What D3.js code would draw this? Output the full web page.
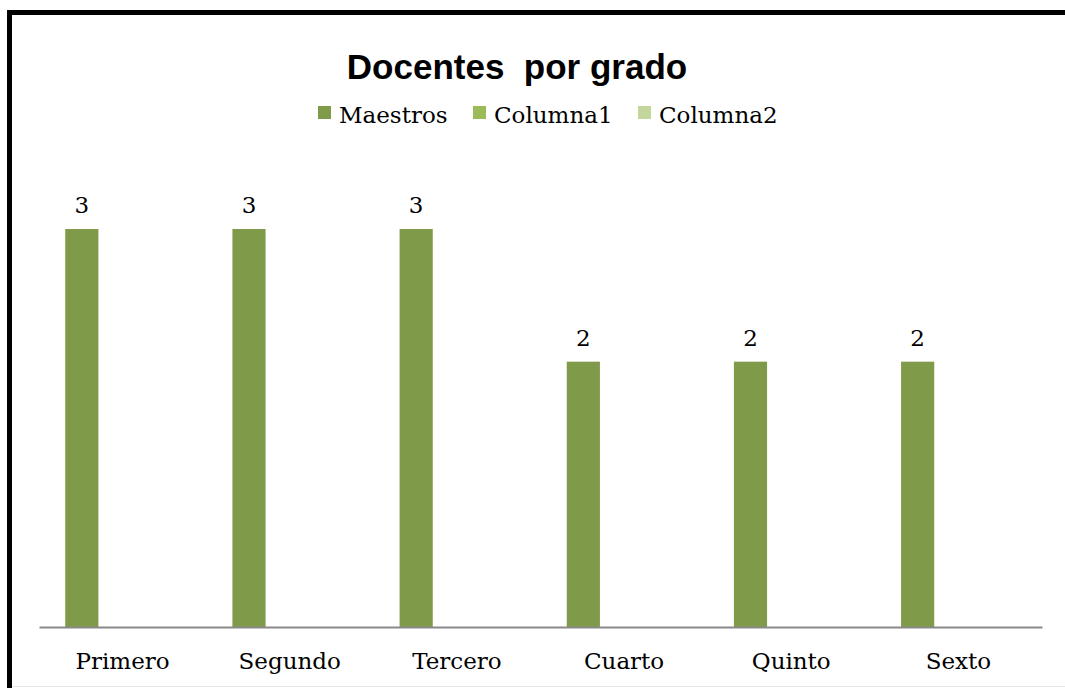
<!DOCTYPE html>
<html>
<head>
<meta charset="utf-8">
<script src="https://cdn.jsdelivr.net/npm/d3@7"></script>
<style>
  body { margin: 0; background: #fff; }
  svg { display: block; }
</style>
</head>
<body>
<svg class="chart" width="1065" height="688"></svg>
<script>
// data
const grados = ["Primero", "Segundo", "Tercero", "Cuarto", "Quinto", "Sexto"];
const series = ["Maestros", "Columna1", "Columna2"];
const maestros = [3, 3, 3, 2, 2, 2];
const serieColors = ["#7f9a48", "#9bbb59", "#c3d69b"];

const svg = d3.select(".chart");
const serif = "'DejaVu Serif', serif";

// frame (top + left black border)
svg.append("path")
    .attr("d", "M9.5,688V12.5H1065")
    .attr("fill", "none")
    .attr("stroke", "#000")
    .attr("stroke-width", 5);
svg.append("line")
    .attr("x1", 12).attr("x2", 1065)
    .attr("y1", 686.5).attr("y2", 686.5)
    .attr("stroke", "#e6e6e6");

const x = d3.scaleBand()
    .domain(grados)
    .range([39, 1042]);

// 3 bars per category, only the first series has values
const bw = x.bandwidth();
const x1 = d3.scaleBand()
    .domain(series)
    .range([bw * 0.157, bw * 0.157 + 99.5]);

const y = d3.scaleLinear()
    .domain([0, 3])
    .range([627, 229]);

// bars
svg.append("g")
    .selectAll("rect")
    .data(maestros)
    .join("rect")
    .attr("x", (d, i) => x(grados[i]) + x1("Maestros"))
    .attr("width", x1.bandwidth())
    .attr("y", d => y(d))
    .attr("height", d => y(0) - y(d))
    .attr("fill", serieColors[0]);

// value labels
svg.append("g")
    .selectAll("text")
    .data(maestros)
    .join("text")
    .attr("x", (d, i) => x(grados[i]) + x1("Maestros") + x1.bandwidth() / 2)
    .attr("y", d => y(d) - 16)
    .attr("text-anchor", "middle")
    .style("font-family", serif)
    .style("font-size", "23px")
    .attr("fill", "#000")
    .text(d => d);

// category axis
const xAxis = svg.append("g")
    .attr("transform", "translate(0,627)")
    .call(d3.axisBottom(x).tickSize(0).tickSizeOuter(0).tickPadding(26));
xAxis.select(".domain")
    .attr("stroke", "#898989")
    .attr("stroke-width", 2);
xAxis.selectAll("text")
    .style("font-family", serif)
    .style("font-size", "23px")
    .attr("fill", "#000");

// title
svg.append("text")
    .attr("x", 517)
    .attr("y", 79)
    .attr("text-anchor", "middle")
    .style("font-family", "'Liberation Sans', Arial, sans-serif")
    .style("font-weight", "bold")
    .style("font-size", "35px")
    .style("white-space", "pre")
    .text("Docentes  por grado");

// legend
const legendX = [318, 473, 638];
const legend = svg.append("g")
    .selectAll("g")
    .data(series)
    .join("g")
    .attr("transform", (d, i) => `translate(${legendX[i]},106)`);
legend.append("rect")
    .attr("width", 13)
    .attr("height", 13)
    .attr("fill", (d, i) => serieColors[i]);
legend.append("text")
    .attr("x", 21)
    .attr("y", 17)
    .style("font-family", serif)
    .style("font-size", "23px")
    .attr("fill", "#000")
    .text(d => d);
</script>
</body>
</html>
